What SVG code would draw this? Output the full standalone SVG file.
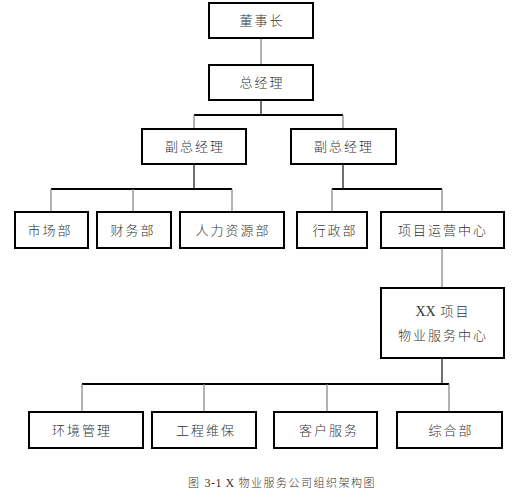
<svg xmlns="http://www.w3.org/2000/svg" width="521" height="498" viewBox="0 0 521 498">
<style>
.box{fill:#fff;stroke:#000;stroke-width:2}
.t{font-family:"Noto Sans CJK SC","Liberation Serif",serif;font-size:13px;font-weight:300;letter-spacing:2px;text-anchor:middle;fill:#333}
.up{stroke:#808080;stroke-width:1.2;fill:none}
.dn{stroke:#222;stroke-width:1.3;fill:none}
.bar{stroke:#000;stroke-width:2;fill:none}
.cap{font-family:"Noto Sans CJK SC","Liberation Serif",serif;font-size:11px;font-weight:300;letter-spacing:1.5px;text-anchor:middle;fill:#333}
</style>
<rect width="521" height="498" fill="#fff"/>
<g id="connectors">
<path class="up" d="M261 38V65"/>
<path class="dn" d="M261 100V115"/>
<path class="bar" d="M194 115H343"/>
<path class="up" d="M194 115V129M343 115V129"/>
<path class="dn" d="M194 164V189M343 164V189"/>
<path class="bar" d="M51 189H232M332 189H442"/>
<path class="up" d="M51 189V212M133 189V212M232 189V212M332 189V212M442 189V212"/>
<path class="up" d="M442 248V288"/>
<path class="dn" d="M442 358V384"/>
<path class="bar" d="M82 384H449"/>
<path class="up" d="M82 384V412M204 384V412M327 384V412M449 384V412"/>
</g>
<g id="n1"><rect class="box" x="209" y="3" width="104" height="35"/><text class="t" x="262" y="25">董事长</text></g>
<g id="n2"><rect class="box" x="209" y="65" width="104" height="35"/><text class="t" x="262" y="87">总经理</text></g>
<g id="n3"><rect class="box" x="142" y="129" width="104" height="35"/><text class="t" x="195" y="151">副总经理</text></g>
<g id="n4"><rect class="box" x="291" y="129" width="105" height="35"/><text class="t" x="344" y="151">副总经理</text></g>
<g id="n5"><rect class="box" x="15" y="212" width="73" height="36"/><text class="t" x="50" y="235">市场部</text></g>
<g id="n6"><rect class="box" x="97" y="212" width="74" height="36"/><text class="t" x="133" y="235">财务部</text></g>
<g id="n7"><rect class="box" x="180" y="212" width="104" height="36"/><text class="t" x="233" y="235">人力资源部</text></g>
<g id="n8"><rect class="box" x="297" y="212" width="70" height="36"/><text class="t" x="335" y="235">行政部</text></g>
<g id="n9"><rect class="box" x="381" y="212" width="123" height="36"/><text class="t" x="443" y="235">项目运营中心</text></g>
<g id="n10"><rect class="box" x="381" y="288" width="123" height="70"/><text class="t" x="443" y="316"><tspan font-family="Liberation Serif" font-size="14" letter-spacing="0">XX</tspan> 项目</text><text class="t" x="443" y="340">物业服务中心</text></g>
<g id="n11"><rect class="box" x="29" y="412" width="114" height="36"/><text class="t" x="82" y="435">环境管理</text></g>
<g id="n12"><rect class="box" x="152" y="412" width="104" height="36"/><text class="t" x="206" y="435">工程维保</text></g>
<g id="n13"><rect class="box" x="274" y="412" width="103" height="36"/><text class="t" x="329" y="435">客户服务</text></g>
<g id="n14"><rect class="box" x="397" y="412" width="105" height="36"/><text class="t" x="451" y="435">综合部</text></g>
<text class="cap" x="282" y="487">图 <tspan font-family="Liberation Serif" font-size="12" letter-spacing="0.5">3-1 X</tspan> 物业服务公司组织架构图</text>
</svg>
